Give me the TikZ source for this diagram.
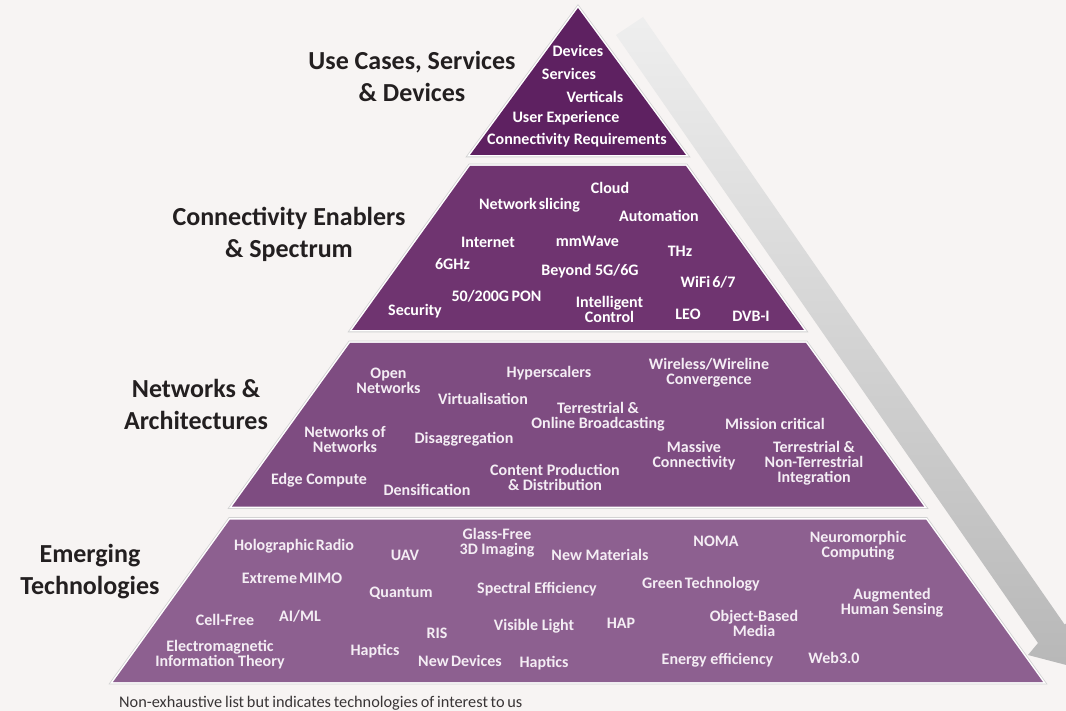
\documentclass[tikz,border=0pt]{standalone}
\usepackage{fontspec}
\setmainfont{Carlito}
\definecolor{bg}{HTML}{F7F4F3}
\definecolor{pA}{HTML}{5E2161}
\definecolor{pB}{HTML}{6F3470}
\definecolor{pC}{HTML}{7E4C81}
\definecolor{pD}{HTML}{8D6090}
\definecolor{ink}{HTML}{231F20}
\definecolor{soft}{HTML}{F4EDF4}
\tikzset{
  layer/.style={line join=miter,
    preaction={draw=gray!35, line width=4.6pt, line join=miter},
    preaction={draw=white, line width=3pt, line join=miter}},
  item/.style={text=white, align=center, inner sep=0pt,
    font=\fontsize{16}{15}\selectfont\bfseries},
  itemL/.style={item, text=soft},
  title/.style={text=ink, align=center, inner sep=0pt,
    font=\fontsize{26}{32}\selectfont\bfseries},
  foot/.style={text=ink!90, anchor=west, inner sep=0pt,
    font=\fontsize{16.3}{18}\selectfont}
}
\begin{document}
\begin{tikzpicture}[x=1pt, y=-1pt]
\useasboundingbox (0,0) rectangle (1066,711);
\fill[bg] (0,0) rectangle (1066,711);
\clip (0,0) rectangle (1066,711);

% arrow
\shade[top color=gray!13, bottom color=gray!56]
  (616,35) -- (643,17) -- (1064.6,624.5) -- (1075,617) -- (1074,667)
  -- (1028,655) -- (1038,643) -- cycle;

% layers
\path[layer, fill=pA] (578,8) -- (686,155) -- (470,155) -- cycle;
\path[layer, fill=pB] (470,166) -- (686,166) -- (804,330) -- (352,330) -- cycle;
\path[layer, fill=pC] (350,343) -- (806,343) -- (924,506.5) -- (232,506.5) -- cycle;
\path[layer, fill=pD] (230,519.5) -- (926,519.5) -- (1043,682) -- (113,682) -- cycle;

% titles
\node[title] (T1) at (412,76) {Use Cases, Services\\\& Devices};
\node[title] (T2) at (289,234) {Connectivity Enablers\\\& Spectrum};
\node[title] (T3) at (196,404.5) {Networks \&\\Architectures};
\node[title] (T4) at (90,572) {Emerging\\Technologies};

% layer 1
\node[item] (a1) at (578,51) {Devices};
\node[item] (a2) at (569,74) {Services};
\node[item] (a3) at (595,97) {Verticals};
\node[item] (a4) at (566,118) {User Experience};
\node[item] (a5) at (577,140) {Connectivity Requirements};

% layer 2
\node[item] (b1) at (610,188) {Cloud};
\node[item] (b2) at (529.5,205) {Network\hspace{0.12em}slicing};
\node[item] (b3) at (659,216) {Automation};
\node[item] (b4) at (488,242) {Internet};
\node[item] (b5) at (587.5,241) {mmWave};
\node[item] (b6) at (680,251) {THz};
\node[item] (b7) at (452.5,264) {6GHz};
\node[item] (b8) at (590,271) {Beyond 5G/6G};
\node[item] (b9) at (708,282) {WiFi\hspace{0.12em}6/7};
\node[item] (b10) at (496.5,296) {50/200G\hspace{0.15em}PON};
\node[item] (b11) at (609.5,309.5) {Intelligent\\Control};
\node[item] (b12) at (415,311) {Security};
\node[item] (b13) at (688,314) {LEO};
\node[item] (b14) at (751,316) {DVB-I};

% layer 3
\node[itemL] (c1) at (388.5,381) {Open\\Networks};
\node[itemL] (c2) at (549,373) {Hyperscalers};
\node[itemL] (c3) at (709,373) {Wireless/Wireline\\Convergence};
\node[itemL] (c4) at (483,399) {Virtualisation};
\node[itemL] (c5) at (598,416.5) {Terrestrial \&\\Online Broadcasting};
\node[itemL] (c6) at (775,424) {Mission critical};
\node[itemL] (c7) at (345,439) {Networks of\\Networks};
\node[itemL] (c8) at (464,439) {Disaggregation};
\node[itemL] (c9) at (694,456) {Massive\\Connectivity};
\node[itemL] (c10) at (814,463) {Terrestrial \&\\Non-Terrestrial\\Integration};
\node[itemL] (c11) at (555,477) {Content Production\\\& Distribution};
\node[itemL] (c12) at (319,480) {Edge Compute};
\node[itemL] (c13) at (427,490) {Densification};

% layer 4
\node[itemL] (d1) at (294,546) {Holographic\hspace{0.12em}Radio};
\node[itemL] (d2) at (405,555) {UAV};
\node[itemL] (d3) at (497,543) {Glass-Free\\3D Imaging};
\node[itemL] (d4) at (600,555) {New Materials};
\node[itemL] (d5) at (716,541) {NOMA};
\node[itemL] (d6) at (858,545.5) {Neuromorphic\\Computing};
\node[itemL] (d7) at (292,578) {Extreme\hspace{0.12em}MIMO};
\node[itemL] (d8) at (401,593) {Quantum};
\node[itemL] (d9) at (537,589) {Spectral Efficiency};
\node[itemL] (d10) at (701,584) {Green\hspace{0.15em}Technology};
\node[itemL] (d11) at (892,603) {Augmented\\Human Sensing};
\node[itemL] (d12) at (225,620) {Cell-Free};
\node[itemL] (d13) at (300,616) {AI/ML};
\node[itemL] (d14) at (534,626) {Visible Light};
\node[itemL] (d15) at (621,623) {HAP};
\node[itemL] (d16) at (754,623) {Object-Based\\Media};
\node[itemL] (d17) at (220,654.5) {Electromagnetic\\Information Theory};
\node[itemL] (d18) at (375,651) {Haptics};
\node[itemL] (d19) at (437,633) {RIS};
\node[itemL] (d20) at (460,661) {New\hspace{0.15em}Devices};
\node[itemL] (d21) at (544,663) {Haptics};
\node[itemL] (d22) at (717.5,660) {Energy efficiency};
\node[itemL] (d23) at (834,658) {Web3.0};

% footnote
\node[foot] (fn) at (119,703) {Non-exhaustive\hspace{0.17em}list\hspace{0.17em}but\hspace{0.17em}indicates\hspace{0.17em}technologies\hspace{0.17em}of\hspace{0.17em}interest\hspace{0.17em}to\hspace{0.17em}us};
\end{tikzpicture}
\end{document}
